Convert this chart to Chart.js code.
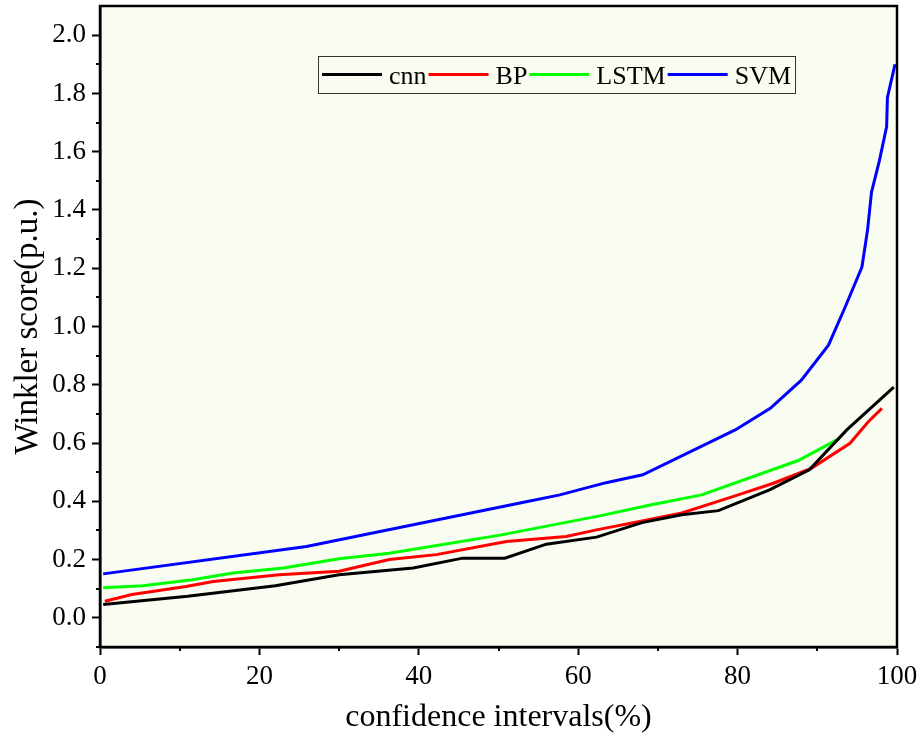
<!DOCTYPE html>
<html lang="en">
<head>
    <meta charset="UTF-8">
    <title>Winkler score</title>
    <script src="https://cdn.jsdelivr.net/npm/chart.js"></script>
    <style>
        html, body { margin: 0; padding: 0; background: #ffffff; }
        #wrap { width: 924px; height: 737px; }
    </style>
</head>
<body>
    <div id="wrap"><canvas id="scoreChart" width="924" height="737"></canvas></div>
    <script>
        // series (x = confidence interval %, y = Winkler score)
        const cnnX = [0.4, 11, 22, 30, 39.3, 45.5, 50.8, 56, 62.3, 68, 73, 77.6, 84, 89, 93.7, 99.6];
        const cnnY = [0.046, 0.074, 0.11, 0.148, 0.171, 0.205, 0.205, 0.253, 0.277, 0.327, 0.354, 0.368, 0.439, 0.508, 0.645, 0.792];

        const bpX = [0.6, 4, 10.8, 14.2, 22.5, 30, 36.3, 42.2, 51, 58.5, 62.3, 67.7, 73, 79.4, 84.5, 89.3, 94.1, 96.4, 98.1];
        const bpY = [0.057, 0.08, 0.108, 0.125, 0.148, 0.16, 0.2, 0.217, 0.262, 0.279, 0.302, 0.331, 0.36, 0.416, 0.462, 0.514, 0.599, 0.673, 0.719];

        const lstmX = [0.4, 5.4, 11.6, 16.7, 23, 30, 36.3, 50.2, 62.7, 69.2, 75.5, 87.6, 92.8];
        const lstmY = [0.103, 0.11, 0.131, 0.154, 0.171, 0.203, 0.222, 0.284, 0.35, 0.388, 0.422, 0.54, 0.616];

        const svmX = [0.4, 25.9, 52.7, 57.7, 63.5, 68.1, 79.7, 84.1, 88, 91.4, 93.5, 95.6, 96.3, 96.8, 97.8, 98.7, 98.8, 99.75];
        const svmY = [0.151, 0.245, 0.394, 0.422, 0.464, 0.491, 0.645, 0.719, 0.816, 0.936, 1.067, 1.204, 1.33, 1.461, 1.57, 1.686, 1.786, 1.9];

        const seriesNames = ['cnn', 'BP', 'LSTM', 'SVM'];
        const seriesColors = ['#000000', '#ff0000', '#00ff00', '#0000ff'];

        const xTicks = [0, 20, 40, 60, 80, 100];
        const xMinor = [10, 30, 50, 70, 90];
        const yTicks = [0.0, 0.2, 0.4, 0.6, 0.8, 1.0, 1.2, 1.4, 1.6, 1.8, 2.0];
        const yMinor = [-0.1, 0.1, 0.3, 0.5, 0.7, 0.9, 1.1, 1.3, 1.5, 1.7, 1.9];

        const serif = '"Liberation Serif", "Times New Roman", serif';
        const plotBg = '#f9fcf1';

        const toPoints = (xs, ys) => xs.map((x, i) => ({ x: x, y: ys[i] }));
        const allX = [cnnX, bpX, lstmX, svmX];
        const allY = [cnnY, bpY, lstmY, svmY];

        // plot background, frame, minor ticks and the boxed legend
        const framePlugin = {
            id: 'frame',
            beforeDraw(chart) {
                const a = chart.chartArea, ctx = chart.ctx;
                ctx.save();
                ctx.fillStyle = plotBg;
                ctx.fillRect(a.left, a.top, a.right - a.left, a.bottom - a.top);
                ctx.restore();
            },
            afterDraw(chart) {
                const a = chart.chartArea, ctx = chart.ctx;
                const xs = chart.scales.x, ys = chart.scales.y;
                ctx.save();
                ctx.strokeStyle = '#000';
                ctx.lineWidth = 2.5;
                ctx.strokeRect(a.left, a.top, a.right - a.left, a.bottom - a.top);
                ctx.lineWidth = 2;
                ctx.beginPath();
                xMinor.forEach(v => {
                    const px = Math.round(xs.getPixelForValue(v));
                    ctx.moveTo(px, a.bottom);
                    ctx.lineTo(px, a.bottom + 4);
                });
                yMinor.forEach(v => {
                    const py = Math.round(ys.getPixelForValue(v));
                    ctx.moveTo(a.left, py);
                    ctx.lineTo(a.left - 4, py);
                });
                ctx.stroke();

                // legend
                const lx = 318, ly = 56, lh = 37;
                ctx.font = '26px ' + serif;
                let cx = lx + 4;
                const items = chart.data.datasets.map(ds => {
                    const w = ctx.measureText(ds.label).width;
                    const it = { x: cx, label: ds.label, color: ds.borderColor, w: w };
                    cx += 60 + 7 + w + 2;
                    return it;
                });
                ctx.fillStyle = plotBg;
                ctx.fillRect(lx, ly, cx + 2 - lx, lh);
                ctx.strokeStyle = '#333';
                ctx.lineWidth = 1;
                ctx.strokeRect(lx + 0.5, ly + 0.5, cx + 2 - lx, lh);
                items.forEach(it => {
                    ctx.strokeStyle = it.color;
                    ctx.lineWidth = 3;
                    ctx.beginPath();
                    ctx.moveTo(it.x, ly + 18.5);
                    ctx.lineTo(it.x + 60, ly + 18.5);
                    ctx.stroke();
                    ctx.fillStyle = '#000';
                    ctx.textBaseline = 'alphabetic';
                    ctx.fillText(it.label, it.x + 67, ly + 28);
                });
                ctx.restore();
            }
        };

        const ctx = document.getElementById('scoreChart').getContext('2d');
        new Chart(ctx, {
            type: 'line',
            data: {
                datasets: seriesNames.map((name, i) => ({
                    label: name,
                    data: toPoints(allX[i], allY[i]),
                    borderColor: seriesColors[i],
                    backgroundColor: seriesColors[i],
                    borderWidth: 3,
                    pointRadius: 0,
                    tension: 0,
                    fill: false
                }))
            },
            options: {
                responsive: false,
                animation: false,
                layout: { padding: { top: 6, right: 27, left: 0, bottom: 0 } },
                plugins: {
                    legend: { display: false },
                    tooltip: { enabled: false }
                },
                scales: {
                    x: {
                        type: 'linear',
                        min: 0,
                        max: 100,
                        afterBuildTicks: s => { s.ticks = xTicks.map(v => ({ value: v })); },
                        afterFit: s => { s.height = 90; s.paddingLeft = 0; s.paddingRight = 0; },
                        grid: { drawOnChartArea: false, drawTicks: true, tickLength: 8, tickWidth: 2, tickColor: '#000' },
                        border: { display: true, color: '#000', width: 2.5 },
                        ticks: { color: '#000', padding: 6, maxRotation: 0, font: { family: serif, size: 27 } },
                        title: {
                            display: true,
                            text: 'confidence intervals(%)',
                            color: '#000',
                            font: { family: serif, size: 32 },
                            padding: { top: 0, bottom: 0 }
                        }
                    },
                    y: {
                        type: 'linear',
                        min: -0.1,
                        max: 2.1,
                        afterBuildTicks: s => { s.ticks = yTicks.map(v => ({ value: v })); },
                        afterFit: s => { s.width = 100; s.paddingTop = 0; s.paddingBottom = 0; },
                        grid: { drawOnChartArea: false, drawTicks: true, tickLength: 8, tickWidth: 2, tickColor: '#000' },
                        border: { display: true, color: '#000', width: 2.5 },
                        ticks: {
                            color: '#000',
                            padding: 6,
                            font: { family: serif, size: 27 },
                            callback: v => v.toFixed(1)
                        },
                        title: {
                            display: true,
                            text: 'Winkler score(p.u.)',
                            color: '#000',
                            font: { family: serif, size: 33 },
                            padding: { top: 9, bottom: 4 }
                        }
                    }
                }
            },
            plugins: [framePlugin]
        });
    </script>
</body>
</html>
